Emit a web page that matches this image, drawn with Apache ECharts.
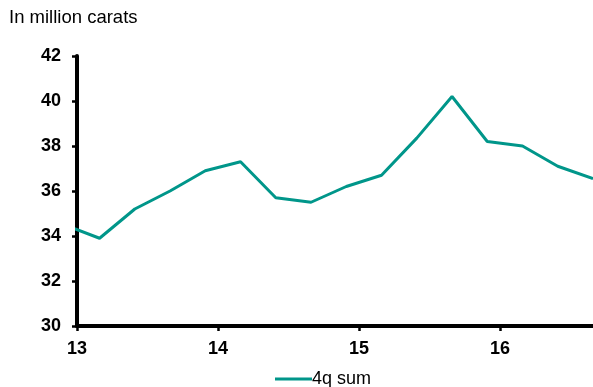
<!DOCTYPE html>
<html>
<head>
<meta charset="utf-8">
<script src="https://cdn.jsdelivr.net/npm/echarts@6/dist/echarts.min.js"></script>
<style>
html,body{margin:0;padding:0;background:#fff;}
#chart{width:593px;height:387px;}
</style>
</head>
<body>
<div id="chart"></div>
<script>
// Quarter positions (in year units, '13 = 2013) and the 4-quarter rolling sum
const periods = [12.91, 13.16, 13.41, 13.66, 13.91, 14.16, 14.41, 14.66, 14.91, 15.16, 15.41, 15.66, 15.91, 16.16, 16.41, 16.66];
const sum4q = [34.5, 33.9, 35.2, 36.0, 36.9, 37.3, 35.7, 35.5, 36.2, 36.7, 38.35, 40.2, 38.2, 38.0, 37.1, 36.55];
const yearTicks = [13, 14, 15, 16];
const yTicks = [30, 32, 34, 36, 38, 40, 42];
const seriesName = '4q sum';
const unitLabel = 'In million carats';

const chart = echarts.init(document.getElementById('chart'), null, {renderer: 'canvas'});
const font = 'Arial, "Liberation Sans", sans-serif';
chart.setOption({
  animation: false,
  title: {
    text: unitLabel, left: 9, top: 8, padding: 0,
    textStyle: {fontFamily: font, fontSize: 18.5, fontWeight: 'normal', color: '#000'}
  },
  legend: {
    left: 275, top: 370, padding: 0,
    icon: 'rect', itemWidth: 37, itemHeight: 3,
    textStyle: {fontFamily: font, fontSize: 18, color: '#000', padding: [0, 0, 0, -5]},
    data: [seriesName]
  },
  grid: {left: 77, right: 0, top: 56, bottom: 61, containLabel: false},
  xAxis: {
    type: 'value',
    min: yearTicks[0], max: periods[periods.length - 1], interval: 1,
    axisLine: {show: true, onZero: false, lineStyle: {color: '#000', width: 4}},
    axisTick: {show: true, length: 5, lineStyle: {color: '#000', width: 2.5}},
    axisLabel: {
      margin: 14, fontFamily: font, fontSize: 18, fontWeight: 'bold', color: '#000',
      showMaxLabel: false,
      formatter: v => yearTicks.includes(v) ? String(v) : ''
    },
    splitLine: {show: false}
  },
  yAxis: {
    type: 'value',
    min: yTicks[0], max: yTicks[yTicks.length - 1], interval: 2,
    axisLine: {show: true, lineStyle: {color: '#000', width: 4}},
    axisTick: {show: true, length: 5, lineStyle: {color: '#000', width: 2.5}},
    axisLabel: {margin: 16, fontFamily: font, fontSize: 18, fontWeight: 'bold', color: '#000'},
    splitLine: {show: false}
  },
  series: [{
    name: seriesName,
    type: 'line',
    data: periods.map((p, i) => [p, sum4q[i]]),
    symbol: 'none',
    clip: true,
    lineStyle: {color: '#00968a', width: 3},
    itemStyle: {color: '#00968a'}
  }]
});
</script>
</body>
</html>
